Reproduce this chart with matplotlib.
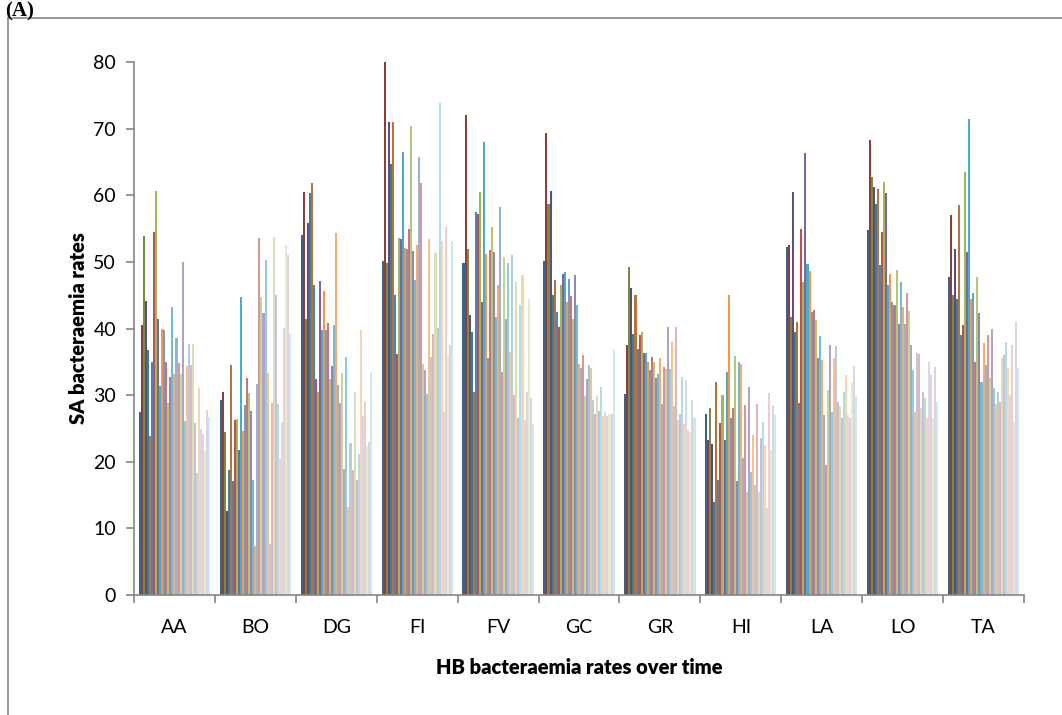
import numpy as np
import matplotlib
matplotlib.use("Agg")
import matplotlib.pyplot as plt
from matplotlib.colors import to_rgb
from matplotlib.lines import Line2D

plt.rcParams['font.family'] = ['Lato', 'DejaVu Sans']

# health boards
categories = ["AA", "BO", "DG", "FI", "FV", "GC", "GR", "HI", "LA", "LO", "TA"]

# SA bacteraemia rates, one value per time point (35 periods) for each board
AA = [27.4, 40.5, 53.9, 44.1, 36.7, 23.8, 34.9, 54.5, 60.6, 41.5, 31.4, 40.0, 39.8, 34.9, 28.8,
      32.7, 43.2, 33.1, 38.5, 34.8, 33.2, 50.0, 26.1, 34.3, 37.6, 34.5, 37.7, 25.8, 18.3, 31.0,
      24.9, 24.1, 21.6, 27.8, 26.7]
BO = [29.3, 30.5, 24.5, 12.6, 18.8, 34.5, 17.1, 26.3, 26.4, 21.7, 44.7, 24.6, 28.5, 32.6, 30.3,
      27.6, 17.3, 7.4, 31.6, 53.6, 44.7, 42.3, 50.3, 33.3, 7.7, 28.8, 53.8, 45.1, 28.7, 20.4,
      26.0, 40.1, 52.5, 51.0, 39.2]
DG = [54.0, 60.5, 41.5, 55.9, 60.4, 61.9, 46.5, 32.4, 30.4, 47.1, 39.7, 45.6, 39.8, 40.9, 32.4,
      34.3, 40.6, 54.4, 31.5, 28.8, 33.3, 18.9, 35.7, 13.2, 22.8, 18.7, 30.5, 17.3, 21.2, 39.7,
      26.9, 29.0, 22.4, 23.0, 33.5]
FI = [50.2, 80.0, 49.9, 71.0, 64.7, 71.0, 45.0, 36.2, 53.6, 53.5, 66.5, 52.1, 51.9, 54.9, 70.4,
      51.7, 47.3, 52.5, 65.7, 61.8, 34.7, 33.8, 30.2, 53.4, 35.7, 39.1, 51.3, 40.1, 73.9, 53.2,
      27.5, 55.3, 35.8, 37.5, 53.2]
FV = [49.8, 72.0, 52.0, 42.0, 39.5, 30.5, 57.5, 57.2, 60.5, 44.0, 68.0, 51.2, 35.5, 51.8, 55.2,
      51.5, 41.8, 46.5, 58.3, 33.5, 50.8, 41.5, 49.8, 36.5, 51.0, 30.0, 47.0, 26.5, 43.5, 48.0,
      26.2, 30.5, 44.5, 29.5, 25.7]
GC = [50.1, 69.4, 58.7, 60.6, 45.0, 47.3, 42.5, 40.2, 46.6, 48.2, 48.5, 44.0, 47.4, 44.9, 41.5,
      48.0, 43.5, 34.7, 34.1, 36.0, 29.9, 32.4, 34.5, 34.1, 29.3, 27.2, 29.8, 27.6, 31.2, 26.9,
      27.5, 26.8, 27.2, 27.2, 36.7]
GR = [30.2, 37.5, 49.2, 46.1, 39.2, 45.1, 36.9, 39.0, 39.4, 36.3, 36.3, 34.9, 33.8, 35.7, 35.0,
      32.6, 33.2, 35.5, 28.7, 34.2, 33.9, 40.2, 33.9, 37.9, 28.3, 40.2, 26.3, 27.1, 32.7, 25.7,
      32.3, 24.7, 24.5, 29.3, 26.5]
HI = [27.2, 23.3, 28.0, 22.6, 14.0, 32.0, 17.2, 25.8, 30.0, 23.3, 33.5, 45.0, 26.5, 28.0, 35.8,
      17.1, 35.0, 34.6, 20.5, 28.5, 15.5, 31.2, 18.5, 24.0, 16.5, 28.7, 15.5, 23.5, 26.0, 22.5,
      13.0, 30.3, 21.8, 28.5, 27.0]
LA = [52.2, 52.5, 41.8, 60.5, 39.5, 41.0, 28.8, 55.0, 47.0, 66.3, 49.7, 48.7, 42.5, 42.8, 41.3,
      35.5, 38.8, 35.3, 27.0, 19.5, 30.7, 37.5, 27.5, 35.5, 37.3, 29.0, 28.3, 26.5, 30.5, 33.0,
      27.0, 26.5, 31.8, 34.3, 29.8]
LO = [54.8, 68.3, 62.7, 61.3, 58.7, 61.0, 49.5, 54.5, 62.0, 60.3, 46.5, 48.2, 44.0, 43.5, 48.8,
      40.7, 47.0, 43.3, 40.7, 45.3, 42.7, 37.5, 33.8, 27.5, 36.3, 36.2, 28.0, 30.5, 29.5, 26.5,
      35.0, 33.0, 26.5, 34.2, 29.0]
TA = [47.8, 57.0, 45.0, 52.0, 44.5, 58.5, 39.0, 40.5, 63.5, 51.5, 71.5, 44.5, 45.3, 35.0, 47.8,
      42.3, 32.0, 37.8, 34.5, 39.0, 32.5, 40.0, 31.0, 28.7, 30.5, 29.0, 35.5, 36.0, 38.0, 34.0,
      30.0, 37.5, 26.0, 41.0, 34.0]

data = np.array([AA, BO, DG, FI, FV, GC, GR, HI, LA, LO, TA])
n_cat, n_ser = data.shape

# excel 2007 style palette: darker, base, then lighter tints
base = ["#4F81BD", "#C0504D", "#9BBB59", "#8064A2", "#4BACC6", "#F79646"]
tiers = [-0.25, 0.0, 0.2, 0.4, 0.58, 0.72]
colors = []
for t in tiers:
    for c in base:
        r = np.array(to_rgb(c))
        if t < 0:
            r = r * (1 + t)
        else:
            r = r + (1 - r) * t
        colors.append(r)
colors = colors[:n_ser]

fig = plt.figure(figsize=(10.62, 7.15), dpi=100)
ax = fig.add_axes([134 / 1062, 1 - 595 / 715, 890 / 1062, 533 / 715])

group_w = 0.88
w = group_w / n_ser
x = np.arange(n_cat)
for j in range(n_ser):
    ax.bar(x - group_w / 2 + (j + 0.5) * w, data[:, j], width=w,
           color=colors[j], linewidth=0)

ax.set_xlim(-0.5, n_cat - 0.5)
ax.set_ylim(0, 80)
ax.set_yticks(range(0, 81, 10))
ax.set_xticks(x)
ax.set_xticklabels(categories)
ax.set_xticks(np.arange(-0.5, n_cat, 1), minor=True)
ax.tick_params(axis='x', which='major', length=0, pad=17, labelsize=14)
ax.tick_params(axis='x', which='minor', length=6, color="#868686", width=1.2)
ax.tick_params(axis='y', length=6, color="#868686", width=1.2, labelsize=14, pad=7)

for s in ["top", "right"]:
    ax.spines[s].set_visible(False)
for s in ["left", "bottom"]:
    ax.spines[s].set_color("#868686")
    ax.spines[s].set_linewidth(1.2)

ax.set_ylabel("SA bacteraemia rates", fontsize=14.5, fontweight="heavy", labelpad=4)
ax.set_xlabel("HB bacteraemia rates over time", fontsize=14.5, fontweight="heavy", labelpad=16)

# outer frame of the chart object
fig.add_artist(Line2D([8 / 1062, 8 / 1062], [0, 1 - 18 / 715], color="#868686", lw=1.2))
fig.add_artist(Line2D([8 / 1062, 1], [1 - 18 / 715, 1 - 18 / 715], color="#868686", lw=1.2))

fig.text(5 / 1062, 1 - 1 / 715, "(A)", family="Liberation Serif", fontweight="bold",
         fontsize=15, va="top", ha="left")

fig.savefig("out.png", dpi=100)
